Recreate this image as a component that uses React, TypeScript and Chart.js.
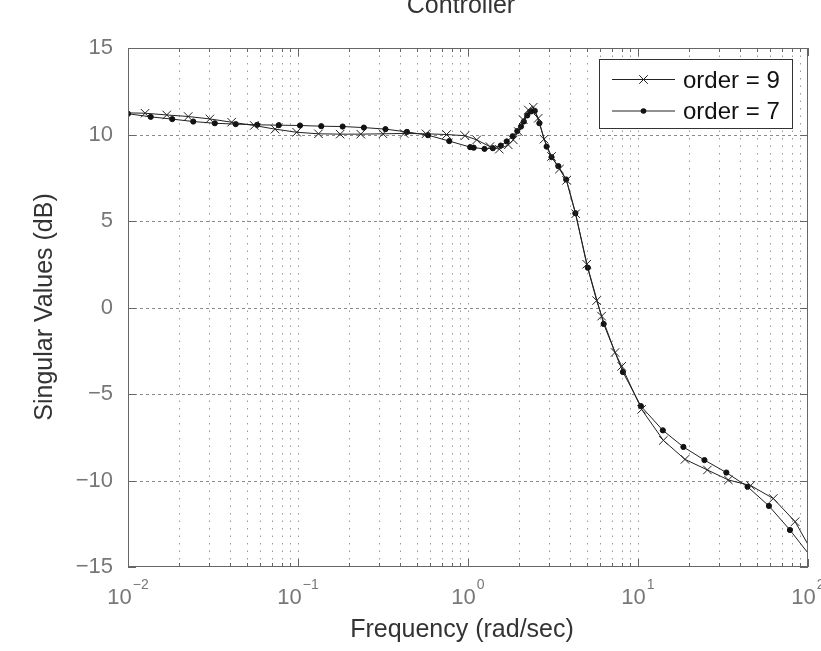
import React, { useEffect, useRef } from 'react';
import { Chart, registerables } from 'chart.js';

Chart.register(...registerables);

// ---- data ----
const seriesLabels = ['order = 9', 'order = 7'];

const freq9 = [
  0.01, 0.0126, 0.0169, 0.0226, 0.0303, 0.0407, 0.0553, 0.0733, 0.0982, 0.132,
  0.177, 0.234, 0.316, 0.421, 0.566, 0.748, 0.96, 1.125, 1.346, 1.528,
  1.726, 1.847, 1.976, 2.115, 2.264, 2.422, 2.59, 2.8, 3.1, 3.45,
  3.8, 4.3, 4.99, 5.71, 6.11, 7.33, 8.02, 10.5, 14.1, 18.9,
  25.6, 34.0, 46.0, 62.5, 84.0, 100,
];
const sv9 = [
  11.25, 11.23, 11.13, 11.04, 10.9, 10.71, 10.52, 10.31, 10.13, 10.04,
  10.02, 10.02, 10.04, 10.06, 10.04, 10.0, 9.93, 9.69, 9.3, 9.15,
  9.4, 9.69, 10.17, 10.85, 11.42, 11.58, 10.94, 9.73, 8.73, 8.0,
  7.35, 5.42, 2.5, 0.4, -0.5, -2.6, -3.4, -5.89, -7.68, -8.78,
  -9.39, -9.97, -10.29, -11.04, -12.38, -13.7,
];

const freq7 = [
  0.01, 0.0136, 0.0182, 0.0242, 0.0324, 0.043, 0.0575, 0.0771, 0.1028, 0.137,
  0.183, 0.244, 0.327, 0.437, 0.582, 0.776, 1.03, 1.08, 1.25, 1.4,
  1.56, 1.69, 1.83, 1.95, 2.05, 2.13, 2.23, 2.34, 2.47, 2.63,
  2.9, 3.1, 3.4, 3.78, 4.28, 5.07, 6.28, 8.15, 10.4, 14.0,
  18.5, 24.6, 33.1, 44.1, 58.9, 78.3, 100,
];
const sv7 = [
  11.2, 11.02, 10.89, 10.75, 10.65, 10.6, 10.56, 10.54, 10.52, 10.48,
  10.46, 10.4, 10.31, 10.15, 9.96, 9.62, 9.27, 9.24, 9.17, 9.21,
  9.36, 9.6, 9.9, 10.2, 10.46, 10.75, 11.1, 11.33, 11.37, 10.65,
  9.3, 8.69, 8.17, 7.4, 5.45, 2.3, -0.95, -3.73, -5.7, -7.1,
  -8.06, -8.82, -9.54, -10.36, -11.47, -12.86, -14.2,
];

const yTickValues = [-15, -10, -5, 0, 5, 10, 15];
const xDecades = [-2, -1, 0, 1, 2];
const xExponentLabels = ['\u22122', '\u22121', '0', '1', '2'];
const titleText = 'Controller';
const xTitle = 'Frequency (rad/sec)';
const yTitle = 'Singular Values (dB)';

// ---- styling ----
const FONT = '"Liberation Sans", Arial, Helvetica, sans-serif';
const LINE = '#222';
const AXIS = '#666';

// log grid positions (1..9 per decade)
const xGridValues: number[] = [];
for (let d = -2; d < 2; d++) {
  for (let m = 1; m <= 9; m++) xGridValues.push(Number((m * Math.pow(10, d)).toPrecision(3)));
}
xGridValues.push(100);

const matlabPlugin = {
  id: 'matlabLook',
  beforeDatasetsDraw(chart: any) {
    const { ctx, chartArea: a, scales } = chart;
    const x = scales.x, y = scales.y;
    ctx.save();
    ctx.lineWidth = 1;
    // vertical dotted grid
    ctx.strokeStyle = '#9a9a9a';
    ctx.setLineDash([1.5, 6]);
    for (const v of xGridValues) {
      const px = Math.round(x.getPixelForValue(v)) + 0.5;
      if (px <= a.left + 1 || px >= a.right - 1) continue;
      ctx.beginPath();
      ctx.moveTo(px, a.top);
      ctx.lineTo(px, a.bottom);
      ctx.stroke();
    }
    // horizontal dashed grid
    ctx.strokeStyle = '#8a8a8a';
    ctx.setLineDash([3, 3]);
    for (const v of yTickValues) {
      const py = Math.round(y.getPixelForValue(v)) + 0.5;
      if (py <= a.top + 1 || py >= a.bottom - 1) continue;
      ctx.beginPath();
      ctx.moveTo(a.left, py);
      ctx.lineTo(a.right, py);
      ctx.stroke();
    }
    ctx.restore();
  },
  afterDatasetsDraw(chart: any) {
    const { ctx, chartArea: a, scales } = chart;
    const x = scales.x, y = scales.y;
    ctx.save();
    ctx.setLineDash([]);
    ctx.lineWidth = 1;
    ctx.strokeStyle = AXIS;
    // box
    ctx.strokeRect(Math.round(a.left) + 0.5, Math.round(a.top) + 0.5,
      Math.round(a.right - a.left) - 1, Math.round(a.bottom - a.top) - 1);
    // inside tick marks
    ctx.beginPath();
    for (const v of xGridValues) {
      const px = Math.round(x.getPixelForValue(v)) + 0.5;
      const major = Math.abs(Math.log10(v) - Math.round(Math.log10(v))) < 1e-6;
      const len = major ? 8 : 4;
      ctx.moveTo(px, a.bottom);
      ctx.lineTo(px, a.bottom - len);
      ctx.moveTo(px, a.top);
      ctx.lineTo(px, a.top + len);
    }
    for (const v of yTickValues) {
      const py = Math.round(y.getPixelForValue(v)) + 0.5;
      ctx.moveTo(a.left, py);
      ctx.lineTo(a.left + 8, py);
      ctx.moveTo(a.right, py);
      ctx.lineTo(a.right - 8, py);
    }
    ctx.stroke();

    // x tick labels with superscript exponents
    ctx.fillStyle = '#777';
    ctx.textAlign = 'left';
    ctx.textBaseline = 'alphabetic';
    xDecades.forEach((d, i) => {
      const px = x.getPixelForValue(Math.pow(10, d));
      ctx.font = `22px ${FONT}`;
      const wb = ctx.measureText('10').width;
      ctx.font = `14px ${FONT}`;
      const we = ctx.measureText(xExponentLabels[i]).width;
      const left = px - (wb + we + 1) / 2;
      ctx.font = `22px ${FONT}`;
      ctx.fillText('10', left, 604);
      ctx.font = `14px ${FONT}`;
      ctx.fillText(xExponentLabels[i], left + wb + 1, 589);
    });

    // titles
    ctx.fillStyle = '#333';
    ctx.textAlign = 'center';
    ctx.font = `25px ${FONT}`;
    ctx.fillText(titleText, 461, 13);
    ctx.fillText(xTitle, 462, 637);
    ctx.save();
    ctx.translate(52, 307);
    ctx.rotate(-Math.PI / 2);
    ctx.fillText(yTitle, 0, 0);
    ctx.restore();

    // legend
    const lx = 599.5, ly = 59.5, lw = 193, lh = 69;
    ctx.fillStyle = '#fff';
    ctx.fillRect(lx, ly, lw, lh);
    ctx.strokeStyle = '#333';
    ctx.strokeRect(lx, ly, lw, lh);
    const rows = [79.5, 111];
    const bases = [87.5, 119];
    rows.forEach((ry, i) => {
      ctx.strokeStyle = LINE;
      ctx.lineWidth = 1;
      ctx.beginPath();
      ctx.moveTo(612, ry);
      ctx.lineTo(675, ry);
      ctx.stroke();
      const mx = 643.5;
      if (i === 0) {
        ctx.beginPath();
        ctx.moveTo(mx - 4.3, ry - 4.3);
        ctx.lineTo(mx + 4.3, ry + 4.3);
        ctx.moveTo(mx - 4.3, ry + 4.3);
        ctx.lineTo(mx + 4.3, ry - 4.3);
        ctx.stroke();
      } else {
        ctx.fillStyle = '#111';
        ctx.beginPath();
        ctx.arc(mx, ry, 2.8, 0, Math.PI * 2);
        ctx.fill();
      }
      ctx.fillStyle = '#111';
      ctx.textAlign = 'left';
      ctx.font = `24px ${FONT}`;
      ctx.fillText(seriesLabels[i], 683, bases[i]);
    });
    ctx.restore();
  },
};

export default function App() {
  const canvasRef = useRef<HTMLCanvasElement | null>(null);

  useEffect(() => {
    const canvas = canvasRef.current;
    if (!canvas) return;
    const last9 = freq9.length - 1;
    const last7 = freq7.length - 1;
    const chart = new Chart(canvas, {
      type: 'line',
      data: {
        datasets: [
          {
            label: seriesLabels[0],
            data: freq9.map((f, i) => ({ x: f, y: sv9[i] })),
            borderColor: LINE,
            borderWidth: 1,
            tension: 0,
            fill: false,
            pointStyle: 'crossRot',
            pointRadius: (c: any) => (c.dataIndex === 0 || c.dataIndex === last9 ? 0 : 6),
            pointBorderColor: LINE,
            pointBorderWidth: 1,
            pointBackgroundColor: 'rgba(0,0,0,0)',
          },
          {
            label: seriesLabels[1],
            data: freq7.map((f, i) => ({ x: f, y: sv7[i] })),
            borderColor: LINE,
            borderWidth: 1,
            tension: 0,
            fill: false,
            pointStyle: 'circle',
            pointRadius: (c: any) => (c.dataIndex === last7 ? 0 : 2.6),
            pointBorderColor: '#111',
            pointBorderWidth: 1,
            pointBackgroundColor: '#111',
          },
        ],
      },
      options: {
        animation: false,
        responsive: false,
        devicePixelRatio: 1,
        events: [],
        layout: { padding: { left: 0, top: 48, right: 13, bottom: 0 } },
        plugins: {
          legend: { display: false },
          title: { display: false },
          tooltip: { enabled: false },
        },
        scales: {
          x: {
            type: 'logarithmic',
            min: 0.01,
            max: 100,
            grid: { display: false },
            border: { display: false },
            ticks: { display: false },
            afterBuildTicks: (s: any) => {
              s.ticks = xGridValues.map((v) => ({ value: v }));
            },
            afterFit: (s: any) => {
              s.height = 84;
            },
          },
          y: {
            type: 'linear',
            min: -15,
            max: 15,
            grid: { display: false },
            border: { display: false },
            afterBuildTicks: (s: any) => {
              s.ticks = yTickValues.map((v) => ({ value: v }));
            },
            ticks: {
              padding: 7,
              color: '#777',
              font: { family: FONT, size: 22 },
              callback: (v: any) => (Number(v) < 0 ? '\u2212' + Math.abs(Number(v)) : String(v)),
            },
            afterFit: (s: any) => {
              s.width = 128;
            },
          },
        },
      },
      plugins: [matlabPlugin],
    });
    return () => chart.destroy();
  }, []);

  return (
    <div style={{ position: 'absolute', left: 0, top: 0, width: 821, height: 651, background: '#fff' }}>
      <canvas ref={canvasRef} width={821} height={651} style={{ display: 'block' }} />
    </div>
  );
}
